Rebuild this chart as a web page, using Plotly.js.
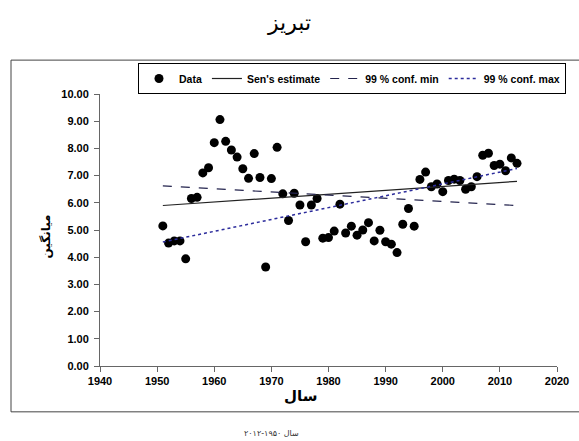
<!DOCTYPE html>
<html>
<head>
<meta charset="utf-8">
<script src="https://cdn.plot.ly/plotly-3.0.1.min.js"></script>
<style>html,body{margin:0;padding:0;background:#fff}#chart{width:579px;height:441px}</style>
</head>
<body>
<div id="chart"></div>
<script>
const years = [1951,1952,1953,1954,1955,1956,1957,1958,1959,1960,
  1961,1962,1963,1964,1965,1966,1967,1968,1969,1970,
  1971,1972,1973,1974,1975,1976,1977,1978,1979,1980,
  1981,1982,1983,1984,1985,1986,1987,1988,1989,1990,
  1991,1992,1993,1994,1995,1996,1997,1998,1999,2000,
  2001,2002,2003,2004,2005,2006,2007,2008,2009,2010,
  2011,2012,2013];
const values = [5.15,4.52,4.60,4.60,3.94,6.16,6.20,7.10,7.29,8.21,
  9.06,8.26,7.94,7.68,7.25,6.90,7.81,6.93,3.64,6.89,
  8.04,6.33,5.35,6.35,5.92,4.57,5.92,6.16,4.70,4.72,
  4.96,5.95,4.89,5.14,4.81,5.00,5.27,4.60,4.99,4.57,
  4.48,4.17,5.21,5.79,5.14,6.86,7.13,6.59,6.69,6.41,
  6.82,6.87,6.82,6.50,6.59,6.96,7.75,7.82,7.37,7.42,
  7.18,7.65,7.45];
const lineYears = [1951, 2013];
const senValues = [5.90, 6.79];
const confMinValues = [6.62, 5.90];
const confMaxValues = [4.56, 7.26];
const xTicks = [1940,1950,1960,1970,1980,1990,2000,2010,2020];
const yTicks = [0,1,2,3,4,5,6,7,8,9,10];

const arabicFont = 'DejaVu Sans, Noto Sans, sans-serif';
const latinFont = 'Liberation Sans, Arial, sans-serif';

const traces = [
  {x: years, y: values, type: 'scatter', mode: 'markers', name: 'Data',
   marker: {color: '#000', size: 9}},
  {x: lineYears, y: senValues, type: 'scatter', mode: 'lines', name: "Sen's estimate",
   line: {color: '#222', width: 1.2}},
  {x: lineYears, y: confMinValues, type: 'scatter', mode: 'lines', name: '99 % conf. min',
   line: {color: '#24244e', width: 1.2, dash: 'dash'}},
  {x: lineYears, y: confMaxValues, type: 'scatter', mode: 'lines', name: '99 % conf. max',
   line: {color: '#2c2c9c', width: 1.5, dash: 'dot'}}
];

const W = 457, H = 273, L = 100, T = 93;
const px = v => (v - L) / W;
const py = v => (T + H - v) / H;

const layout = {
  width: 579, height: 441,
  margin: {l: L, r: 579 - L - W, t: T, b: 441 - T - H, pad: 0},
  paper_bgcolor: '#fff', plot_bgcolor: '#fff',
  showlegend: true,
  title: {text: 'تبریز', font: {family: arabicFont, size: 22, color: '#000'},
    x: 0.5, xref: 'container', xanchor: 'center', y: 1 - 22/441, yref: 'container', yanchor: 'middle'},
  xaxis: {range: [1940, 2020], tickvals: xTicks, ticktext: xTicks.map(String),
    showgrid: false, zeroline: false, showline: true, linecolor: '#666', linewidth: 1,
    ticks: 'outside', ticklen: 5, tickcolor: '#666',
    tickfont: {family: latinFont, size: 11, color: '#000', weight: 'bold'}},
  yaxis: {range: [0, 10], tickvals: yTicks, tickformat: '.2f',
    showgrid: false, zeroline: false, showline: true, linecolor: '#666', linewidth: 1,
    ticks: 'outside', ticklen: 5, tickcolor: '#666', ticklabelstandoff: 3,
    tickfont: {family: latinFont, size: 11, color: '#000', weight: 'bold'}},
  legend: {orientation: 'h', x: 138/579, y: 1 - 63/441, xanchor: 'left', yanchor: 'top',
    xref: 'container', yref: 'container',
    bordercolor: '#000', borderwidth: 1, bgcolor: '#fff', itemwidth: 30,
    font: {family: latinFont, size: 10.5, color: '#000', weight: 'bold'}},
  shapes: [
    {type: 'rect', xref: 'paper', yref: 'paper', x0: px(11), x1: px(581), y0: py(412), y1: py(59),
     line: {color: '#444', width: 1}, fillcolor: 'rgba(0,0,0,0)', layer: 'below'}
  ],
  annotations: [
    {text: 'میانگین', xref: 'paper', yref: 'paper', x: px(46), y: py(236), xanchor: 'center', yanchor: 'middle',
     textangle: -90, showarrow: false, font: {family: arabicFont, size: 12, color: '#000', weight: 'bold'}},
    {text: 'سال', xref: 'paper', yref: 'paper', x: px(300), y: py(396), xanchor: 'center', yanchor: 'middle',
     showarrow: false, font: {family: arabicFont, size: 15, color: '#000', weight: 'bold'}},
    {text: 'سال ۱۹۵۰-۲۰۱۲', xref: 'paper', yref: 'paper', x: px(271), y: py(434), xanchor: 'center', yanchor: 'middle',
     showarrow: false, font: {family: arabicFont, size: 8, color: '#333'}}
  ]
};

Plotly.newPlot('chart', traces, layout, {displayModeBar: false, staticPlot: true});
</script>
</body>
</html>
